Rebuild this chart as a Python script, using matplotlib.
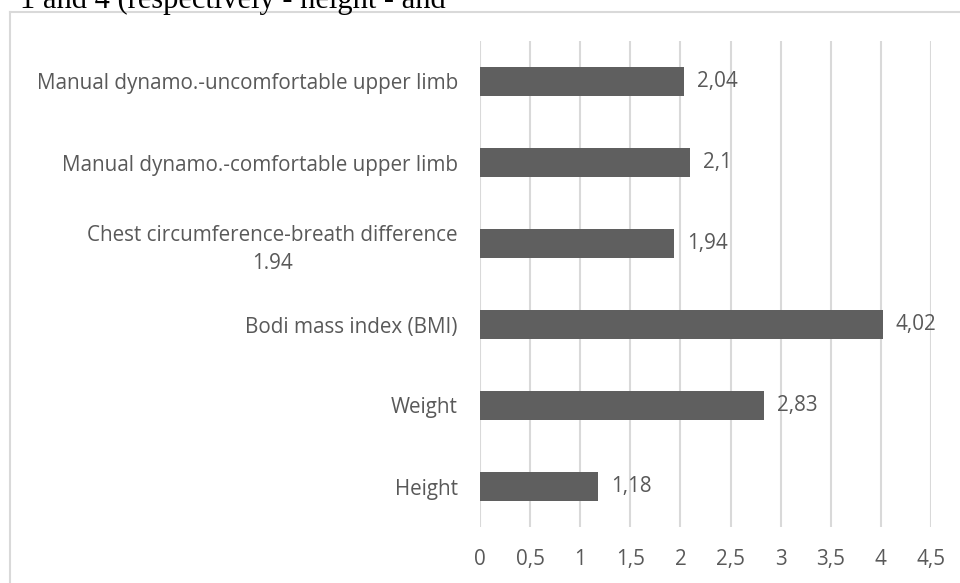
import matplotlib
matplotlib.use("Agg")
import matplotlib.pyplot as plt
from matplotlib.lines import Line2D

# bottom to top, as they appear on the chart
categories = [
    "Height",
    "Weight",
    "Bodi mass index (BMI)",
    "Chest circumference-breath difference\n1.94",
    "Manual dynamo.-comfortable upper limb",
    "Manual dynamo.-uncomfortable upper limb",
]
values = [1.18, 2.83, 4.02, 1.94, 2.1, 2.04]
xticks = [0, 0.5, 1, 1.5, 2, 2.5, 3, 3.5, 4, 4.5]

TXT = "#595959"
GRID = "#d9d9d9"
BAR = "#5f5f5f"
FS = 14.9

plt.rcParams["font.family"] = ["Open Sans", "DejaVu Sans"]

W, H = 960, 583
fig = plt.figure(figsize=(W / 100, H / 100), dpi=100)
ax = fig.add_axes([480 / W, 1 - 527 / H, (931 - 480) / W, (527 - 41) / H])

pos = list(range(len(categories)))
ax.barh(pos, values, height=0.36, color=BAR, zorder=3)
for p, v in zip(pos, values):
    ax.text(v + 0.13, p, ("%g" % v).replace(".", ","), va="center", ha="left",
            fontsize=FS, color=TXT)

ax.set_xlim(0, 4.5)
ax.set_ylim(-0.5, len(categories) - 0.5)
ax.set_xticks(xticks)
ax.set_xticklabels([("%g" % t).replace(".", ",") for t in xticks])
ax.set_yticks(pos)
ax.set_yticklabels(categories)
for lab in ax.get_yticklabels():
    lab.set_multialignment("center")
    lab.set_linespacing(1.45)
ax.tick_params(axis="both", length=0, labelsize=FS, labelcolor=TXT)
ax.tick_params(axis="x", pad=16)
ax.tick_params(axis="y", pad=16)
ax.grid(axis="x", color=GRID, linewidth=1.5, zorder=0)
for s in ax.spines.values():
    s.set_visible(False)

# chart frame, running off the page edge
fig.add_artist(Line2D([10 / W, 10 / W], [1 - 12 / H, 0], transform=fig.transFigure,
                      color=GRID, linewidth=1.5))
fig.add_artist(Line2D([10 / W, 1], [1 - 12 / H, 1 - 12 / H], transform=fig.transFigure,
                      color=GRID, linewidth=1.5))

# surrounding document text
fig.text(20 / W, 1 - 8 / H, "1 and 4 (respectively - height - and",
         family=["Liberation Serif"], fontsize=22, color="black", va="baseline")

fig.savefig("out.png", dpi=100)
